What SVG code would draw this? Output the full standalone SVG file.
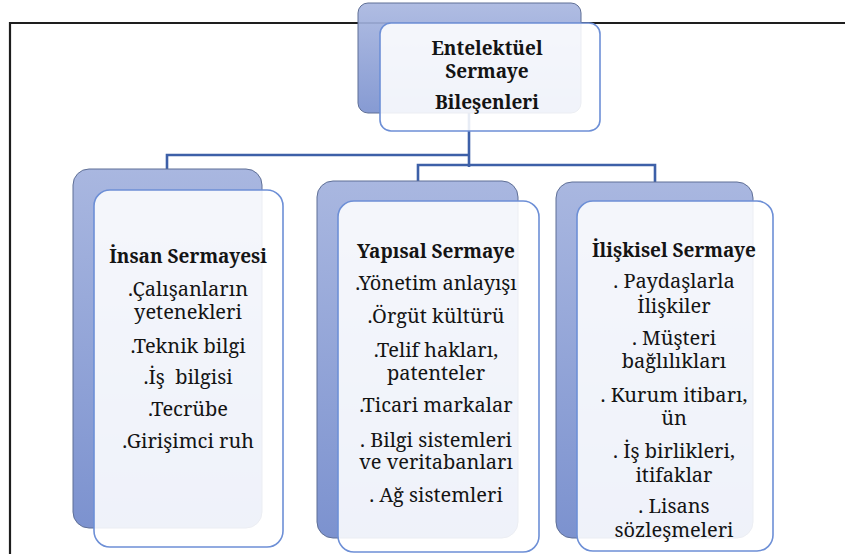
<svg xmlns="http://www.w3.org/2000/svg" width="845" height="554" viewBox="0 0 845 554">
  <style>
    .back { fill: url(#backGrad); stroke: #5f6f96; stroke-width: 1; }
    .front { fill: #ffffff; fill-opacity: 0.88; stroke: #6d8fd6; stroke-width: 1.6; }
    .conn { fill: none; stroke: #3d60a8; stroke-width: 2.6; }
    .frame { fill: none; stroke: #1e1e1e; stroke-width: 2.2; }
    text { font-family: "Noto Serif", "DejaVu Serif", "Liberation Serif", serif; font-size: 20px; fill: #141414; text-anchor: middle; }
    .title { font-weight: bold; font-size: 19px; }
  </style>
  <defs>
    <linearGradient id="backGrad" x1="0" y1="0" x2="0" y2="1">
      <stop offset="0" stop-color="#a9b7e0"/>
      <stop offset="1" stop-color="#7c92cf"/>
    </linearGradient>
  </defs>
  <rect x="0" y="0" width="845" height="554" fill="#ffffff"/>

  <g id="frame">
    <path class="frame" d="M10 554 V23 H845"/>
  </g>

  <g id="connectors">
    <path class="conn" d="M469 113 V167"/>
    <path class="conn" d="M469 155 H167 V169"/>
    <path class="conn" d="M418 181 V165 H655 V182"/>
  </g>

  <g id="node-root">
    <rect class="back" x="358" y="3" width="223" height="110" rx="10" fill-opacity="0.92"/>
    <rect class="front" x="380" y="23" width="220" height="108" rx="11"/>
    <text class="title" x="487" y="55">Entelektüel</text>
    <text class="title" x="487" y="78">Sermaye</text>
    <text class="title" x="487" y="109">Bileşenleri</text>
  </g>

  <g id="node-insan">
    <rect class="back" x="73" y="169" width="189" height="359" rx="16"/>
    <rect class="front" x="94" y="190" width="189" height="357" rx="16"/>
    <text class="title" x="188" y="263">İnsan Sermayesi</text>
    <text x="188" y="296">.Çalışanların</text>
    <text x="188" y="319">yetenekleri</text>
    <text x="188" y="353">.Teknik bilgi</text>
    <text x="188" y="384">.İş&#160; bilgisi</text>
    <text x="188" y="416">.Tecrübe</text>
    <text x="188" y="448">.Girişimci ruh</text>
  </g>

  <g id="node-yapisal">
    <rect class="back" x="317" y="181" width="201" height="357" rx="16"/>
    <rect class="front" x="338" y="201" width="201" height="351" rx="16"/>
    <text class="title" x="436" y="258">Yapısal Sermaye</text>
    <text x="436" y="290">.Yönetim anlayışı</text>
    <text x="436" y="323">.Örgüt kültürü</text>
    <text x="436" y="357">.Telif hakları,</text>
    <text x="436" y="380">patenteler</text>
    <text x="436" y="412">.Ticari markalar</text>
    <text x="436" y="447">. Bilgi sistemleri</text>
    <text x="436" y="469">ve veritabanları</text>
    <text x="436" y="502">. Ağ sistemleri</text>
  </g>

  <g id="node-iliskisel">
    <rect class="back" x="556" y="182" width="197" height="356" rx="16"/>
    <rect class="front" x="577" y="201" width="196" height="350" rx="16"/>
    <text class="title" x="674" y="257">İlişkisel Sermaye</text>
    <text x="674" y="288">. Paydaşlarla</text>
    <text x="674" y="313">İlişkiler</text>
    <text x="674" y="345">. Müşteri</text>
    <text x="674" y="368">bağlılıkları</text>
    <text x="674" y="402">. Kurum itibarı,</text>
    <text x="674" y="425">ün</text>
    <text x="674" y="458">. İş birlikleri,</text>
    <text x="674" y="482">itifaklar</text>
    <text x="674" y="513">. Lisans</text>
    <text x="674" y="537">sözleşmeleri</text>
  </g>
</svg>
